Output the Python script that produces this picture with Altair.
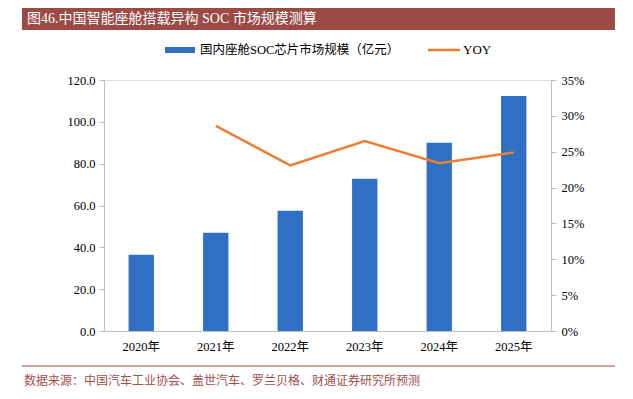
import altair as alt
import pandas as pd

years = ["2020年", "2021年", "2022年", "2023年", "2024年", "2025年"]
market = [36.5, 47.0, 57.5, 72.8, 90.0, 112.3]
yoy = [None, 0.286, 0.231, 0.265, 0.234, 0.249]

title_text = "图46.中国智能座舱搭载异构 SOC 市场规模测算"
source_text = "数据来源：中国汽车工业协会、盖世汽车、罗兰贝格、财通证券研究所预测"
legend_bar = "国内座舱SOC芯片市场规模（亿元）"
legend_line = "YOY"

df = pd.DataFrame({"year": years, "market": market, "yoy": yoy})
one = pd.DataFrame({"a": [0]})

SERIF = "'Liberation Serif', 'Times New Roman', 'Noto Sans CJK SC', serif"
BLUE = "#2F70C5"
ORANGE = "#ED7D31"
RED = "#9C4A46"
GRAY = "#BFBFBF"

W, H = 447, 251

xenc = alt.X("year:N", sort=years, title=None,
             scale=alt.Scale(paddingInner=0.66, paddingOuter=0.33),
             axis=alt.Axis(labelAngle=0, ticks=False, domainColor=GRAY, labelPadding=9,
                           labelFontSize=12.5, labelFont=SERIF, labelColor="#000000"))

bars = alt.Chart(df).mark_bar(color=BLUE).encode(
    x=xenc,
    y=alt.Y("market:Q", title=None,
            scale=alt.Scale(domain=[0, 120]),
            axis=alt.Axis(values=[0, 20, 40, 60, 80, 100, 120], format=".1f", grid=False,
                          domainColor=GRAY, tickColor=GRAY, tickSize=5, labelPadding=4,
                          labelFontSize=12.5, labelFont=SERIF, labelColor="#000000")),
)

line = alt.Chart(df).transform_filter("datum.yoy != null").mark_line(
    color=ORANGE, strokeWidth=2.5).encode(
    x=alt.X("year:N", sort=years),
    y=alt.Y("yoy:Q", title=None,
            scale=alt.Scale(domain=[0, 0.35]),
            axis=alt.Axis(orient="right", values=[0, 0.05, 0.1, 0.15, 0.2, 0.25, 0.3, 0.35],
                          format=".0%", grid=False, domainColor=GRAY, tickColor=GRAY,
                          tickSize=5, labelPadding=5, labelFontSize=12.5, labelFont=SERIF,
                          labelColor="#000000")),
)

banner = alt.Chart(one).mark_rect(color=RED).encode(
    x=alt.value(-82), x2=alt.value(511), y=alt.value(-73), y2=alt.value(-50))
title = alt.Chart(one).mark_text(align="left", baseline="middle", color="white",
                                 fontSize=14, font=SERIF).encode(
    x=alt.value(-77), y=alt.value(-61), text=alt.value(title_text))

leg_rect = alt.Chart(one).mark_rect(color=BLUE).encode(
    x=alt.value(61), x2=alt.value(91), y=alt.value(-33), y2=alt.value(-27))
leg_text1 = alt.Chart(one).mark_text(align="left", baseline="middle", fontSize=12.5,
                                     font=SERIF, color="#000000").encode(
    x=alt.value(96), y=alt.value(-30), text=alt.value(legend_bar))
leg_line = alt.Chart(one).mark_rule(color=ORANGE, strokeWidth=2.5).encode(
    x=alt.value(324), x2=alt.value(356), y=alt.value(-30))
leg_text2 = alt.Chart(one).mark_text(align="left", baseline="middle", fontSize=13,
                                     font=SERIF, color="#000000").encode(
    x=alt.value(359), y=alt.value(-30), text=alt.value(legend_line))

sep = alt.Chart(one).mark_rule(color=RED, strokeWidth=1).encode(
    x=alt.value(-82), x2=alt.value(511), y=alt.value(286))
source = alt.Chart(one).mark_text(align="left", baseline="middle", fontSize=12,
                                  font=SERIF, color="#A0504B").encode(
    x=alt.value(-80), y=alt.value(301), text=alt.value(source_text))

main = alt.layer(bars, line).resolve_scale(y="independent")

chart = alt.layer(
    main, banner, title, leg_rect, leg_text1, leg_line, leg_text2, sep, source
).properties(
    width=W, height=H,
    padding={"left": 96, "top": 72, "right": 70, "bottom": 58},
    autosize=alt.AutoSizeParams(type="none"),
).configure_view(stroke=None).configure(background="white")

chart.save("out.html", embed_options={"renderer": "svg", "actions": False})
